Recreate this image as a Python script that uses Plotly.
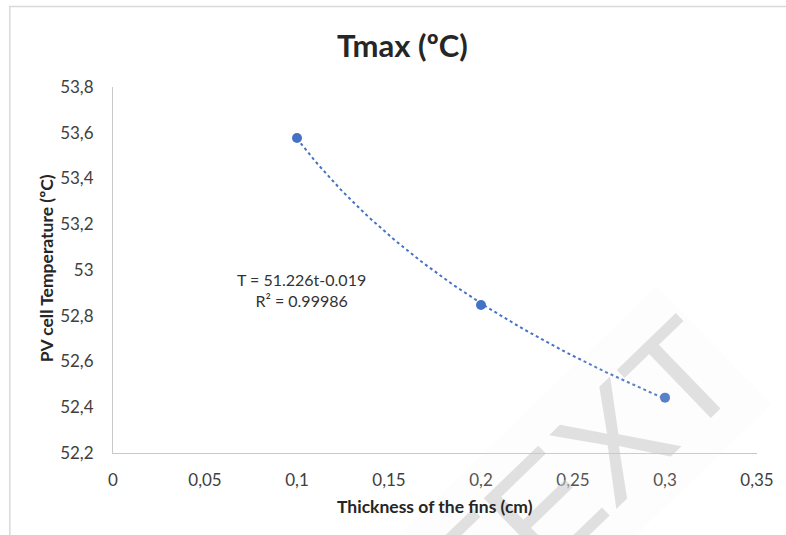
import numpy as np
import plotly.graph_objects as go

# Data
thickness_cm = [0.1, 0.2, 0.3]
tmax_c = [53.577, 52.847, 52.442]
x_ticks = [0, 0.05, 0.1, 0.15, 0.2, 0.25, 0.3, 0.35]
y_ticks = [52.2, 52.4, 52.6, 52.8, 53.0, 53.2, 53.4, 53.6, 53.8]
equation_text = "T = 51.226t-0.019<br>R² = 0.99986"

BLUE = "#4472C4"
FONT = "Lato"

# Power trendline fitted from the data (T = a * t^b)
b, ln_a = np.polyfit(np.log(thickness_cm), np.log(tmax_c), 1)
t_fit = np.linspace(min(thickness_cm), max(thickness_cm), 120)
T_fit = np.exp(ln_a) * t_fit ** b

fig = go.Figure()
fig.add_trace(go.Scatter(x=t_fit, y=T_fit, mode="lines",
                         line=dict(color=BLUE, width=2, dash="dot"),
                         hoverinfo="skip", showlegend=False))
fig.add_trace(go.Scatter(x=thickness_cm, y=tmax_c, mode="markers",
                         marker=dict(color=BLUE, size=10),
                         showlegend=False))

W, H = 786, 535
L, R, T, B = 113, 27, 87, 82
pw, ph = W - L - R, H - T - B

def px2paper_x(px):
    return (px - L) / pw

def px2paper_y(py):
    return (H - B - py) / ph

fig.update_layout(
    width=W, height=H,
    margin=dict(l=L, r=R, t=T, b=B),
    paper_bgcolor="white", plot_bgcolor="white",
    separators=", ",
    font=dict(family=FONT, size=17, color="#404040"),
    xaxis=dict(range=[0, 0.35], tickvals=x_ticks, showgrid=False,
               zeroline=False, showline=True, linecolor="#c8c8c8", linewidth=1,
               ticks="", ticklabelstandoff=12,
               tickfont=dict(family=FONT, size=17, color="#404040")),
    yaxis=dict(range=[52.2, 53.8], tickvals=y_ticks, showgrid=False,
               zeroline=False, showline=True, linecolor="#c8c8c8", linewidth=1,
               ticks="", ticklabelstandoff=15,
               tickfont=dict(family=FONT, size=17, color="#404040")),
)

# Faint watermark
fig.add_annotation(text="TEXT", xref="paper", yref="paper",
                   x=px2paper_x(581), y=px2paper_y(475), showarrow=False,
                   textangle=-44, xanchor="center", yanchor="middle",
                   bgcolor="rgba(235,235,235,0.12)",
                   font=dict(family="Liberation Sans", size=145, color="rgba(200,200,200,0.55)"))

# Title
fig.add_annotation(text="<b>Tmax (ºC)</b>", xref="paper", yref="paper",
                   x=px2paper_x(403), y=px2paper_y(45), showarrow=False,
                   xanchor="center", yanchor="middle",
                   font=dict(family=FONT, size=31, color="#262626"))

# Axis titles
fig.add_annotation(text="<b>Thickness of the fins (cm)</b>", xref="paper", yref="paper",
                   x=0.5, y=px2paper_y(506), showarrow=False, xanchor="center",
                   yanchor="middle", font=dict(family=FONT, size=17.5, color="#262626"))
fig.add_annotation(text="<b>PV cell Temperature (ºC)</b>", xref="paper", yref="paper",
                   x=px2paper_x(46), y=px2paper_y(268), showarrow=False, textangle=-90,
                   xanchor="center", yanchor="middle",
                   font=dict(family=FONT, size=17.5, color="#262626"))

# Trendline equation
fig.add_annotation(text=equation_text, xref="paper", yref="paper",
                   x=px2paper_x(302), y=px2paper_y(290), showarrow=False,
                   xanchor="center", yanchor="middle", align="center",
                   font=dict(family=FONT, size=16, color="#333333"))

# Chart border (cropped at right/bottom)
fig.add_shape(type="rect", xref="paper", yref="paper",
              x0=px2paper_x(9.5), y0=px2paper_y(560), x1=px2paper_x(810), y1=px2paper_y(6.5),
              line=dict(color="#d9d9d9", width=1.5), fillcolor="rgba(0,0,0,0)", layer="below")

fig.write_html("out.html")
